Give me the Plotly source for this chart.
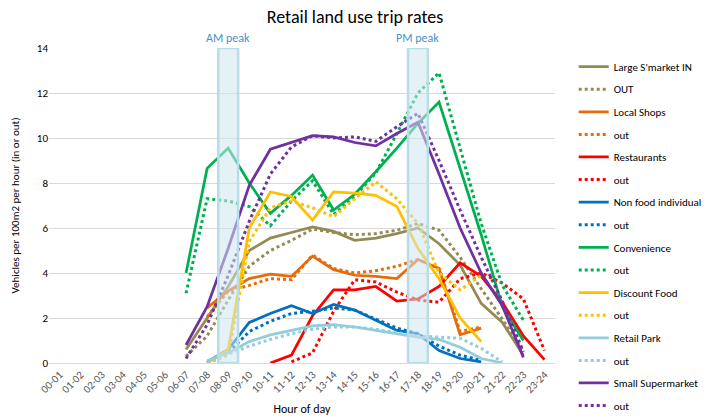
import plotly.graph_objects as go

# Hour-of-day bands on the x axis
hours = ["00-01", "01-02", "02-03", "03-04", "04-05", "05-06", "06-07", "07-08",
         "08-09", "09-10", "10-11", "11-12", "12-13", "13-14", "14-15", "15-16",
         "16-17", "17-18", "18-19", "19-20", "20-21", "21-22", "22-23", "23-24"]

# Trip rates (vehicles per 100m2 per hour); each series starts at the band given
large_in_start = 6
large_in = [0.6, 2.0, 3.4, 5.0, 5.55, 5.8, 6.05, 5.85, 5.45, 5.55, 5.75, 6.0, 5.3, 4.35, 2.65, 1.8, 0.35]
large_out_start = 6
large_out = [0.3, 1.2, 2.8, 4.3, 5.0, 5.45, 5.95, 5.8, 5.7, 5.75, 5.9, 6.2, 5.9, 4.7, 3.3, 1.95, 0.5]

local_in_start = 7
local_in = [2.45, 3.2, 3.75, 3.95, 3.85, 4.75, 4.15, 3.9, 3.85, 3.75, 4.6, 4.2, 1.25, 1.55]
local_out_start = 7
local_out = [2.05, 3.2, 3.45, 3.75, 3.7, 4.8, 4.2, 4.0, 4.1, 4.3, 4.6, 4.2, 1.4, 1.6]

rest_in_start = 10
rest_in = [0.0, 0.35, 2.1, 3.25, 3.25, 3.4, 2.75, 2.85, 3.4, 4.45, 3.85, 2.7, 1.2, 0.15]
rest_out_start = 11
rest_out = [0.05, 0.45, 2.3, 3.7, 3.6, 3.15, 2.8, 2.7, 3.75, 4.0, 3.55, 2.85, 0.55]

nonfood_in_start = 7
nonfood_in = [0.05, 0.6, 1.8, 2.2, 2.55, 2.2, 2.6, 2.35, 1.9, 1.45, 1.3, 0.55, 0.2, 0.05]
nonfood_out_start = 7
nonfood_out = [0.0, 0.45, 1.4, 1.85, 2.2, 2.3, 2.45, 2.35, 1.95, 1.55, 1.3, 0.75, 0.35, 0.12]

conv_in_start = 6
conv_in = [4.0, 8.65, 9.55, 8.0, 6.65, 7.45, 8.35, 6.8, 7.5, 8.5, 9.55, 10.65, 11.6, 8.6, 5.7, 2.5, 1.0]
conv_out_start = 6
conv_out = [3.1, 7.3, 7.2, 6.95, 6.1, 7.2, 8.1, 6.6, 7.4, 8.45, 10.2, 12.0, 12.9, 9.5, 6.2, 3.45, 1.9]

disc_in_start = 7
disc_in = [0.0, 0.6, 6.0, 7.6, 7.4, 6.35, 7.6, 7.55, 7.45, 6.95, 5.1, 3.75, 2.0, 0.95]
disc_out_start = 7
disc_out = [0.0, 0.35, 5.4, 6.9, 7.2, 6.9, 6.5, 7.3, 8.05, 7.3, 6.2, 4.0, 3.25, 3.9]

park_in_start = 7
park_in = [0.1, 0.45, 0.95, 1.25, 1.45, 1.65, 1.7, 1.6, 1.45, 1.3, 1.15, 1.05, 0.7, 0.2, 0.0]
park_out_start = 7
park_out = [0.05, 0.4, 0.75, 1.05, 1.3, 1.5, 1.6, 1.6, 1.5, 1.35, 1.2, 1.15, 1.1, 0.65, 0.05]

small_in_start = 6
small_in = [0.8, 2.5, 5.1, 7.9, 9.5, 9.8, 10.1, 10.05, 9.8, 9.65, 10.2, 10.7, 8.4, 6.0, 4.0, 2.55, 0.25]
small_out_start = 6
small_out = [0.2, 1.7, 3.9, 6.3, 8.4, 9.6, 10.1, 10.0, 10.05, 9.85, 10.5, 11.1, 9.0, 6.8, 4.7, 2.75, 0.5]

legend_names = ["Large S'market IN", "OUT", "Local Shops", "out", "Restaurants", "out",
                "Non food individual", "out", "Convenience", "out", "Discount Food", "out",
                "Retail Park", "out", "Small Supermarket", "out"]

peak_hours = ["08-09", "17-18"]
peak_labels = ["AM peak", "PM peak"]


def full_day(start, values):
    """Place a series on the 24-band day, leaving empty bands blank."""
    out = [None] * len(hours)
    for i, v in enumerate(values):
        out[start + i] = v
    return out


series = [
    (large_in_start, large_in, "#948A54", "solid"),
    (large_out_start, large_out, "#948A54", "dot"),
    (local_in_start, local_in, "#E46C0A", "solid"),
    (local_out_start, local_out, "#E46C0A", "dot"),
    (rest_in_start, rest_in, "#FF0000", "solid"),
    (rest_out_start, rest_out, "#FF0000", "dot"),
    (nonfood_in_start, nonfood_in, "#0070C0", "solid"),
    (nonfood_out_start, nonfood_out, "#0070C0", "dot"),
    (conv_in_start, conv_in, "#00B050", "solid"),
    (conv_out_start, conv_out, "#00B050", "dot"),
    (disc_in_start, disc_in, "#FFC000", "solid"),
    (disc_out_start, disc_out, "#FFC000", "dot"),
    (park_in_start, park_in, "#92CDDC", "solid"),
    (park_out_start, park_out, "#92CDDC", "dot"),
    (small_in_start, small_in, "#7030A0", "solid"),
    (small_out_start, small_out, "#7030A0", "dot"),
]

FONT = "Carlito, Lato, 'Liberation Sans', sans-serif"

fig = go.Figure()
for k, (start, vals, color, dash) in enumerate(series):
    fig.add_trace(go.Scatter(
        x=hours, y=full_day(start, vals), name=legend_names[k],
        mode="lines", connectgaps=False, legendgroup=f"g{k}",
        line=dict(color=color, width=2.75 if dash == "solid" else 3,
                  dash="solid" if dash == "solid" else "3px,3px"),
    ))

# Shaded peak-hour bands drawn over the lines
for h, lab in zip(peak_hours, peak_labels):
    idx = hours.index(h)
    fig.add_shape(type="rect", xref="x", yref="y", x0=idx - 0.47, x1=idx + 0.47,
                  y0=0, y1=14, layer="above",
                  fillcolor="rgba(205,230,238,0.55)",
                  line=dict(color="#B7DDE8", width=2.5))
    fig.add_annotation(x=h, y=14, xref="x", yref="y", text=lab, showarrow=False,
                       yanchor="bottom", yshift=1,
                       font=dict(family=FONT, size=12, color="#4A90C8"))

fig.update_layout(
    width=710, height=420,
    paper_bgcolor="white", plot_bgcolor="white",
    margin=dict(l=49, r=155, t=48, b=57, autoexpand=False),
    title=dict(text="Retail land use trip rates", x=0.5, xanchor="center",
               y=0.975, yanchor="top",
               font=dict(family=FONT, size=18, color="#000000", weight=400)),
    font=dict(family=FONT, size=11, color="#595959"),
    showlegend=True,
    legend=dict(x=1.037, xanchor="left", y=0.987, yanchor="top",
                font=dict(family=FONT, size=11, color="#000000"),
                tracegroupgap=3.6, traceorder="grouped", maxheight=420,
                bgcolor="rgba(0,0,0,0)", itemwidth=30),
)

fig.update_xaxes(
    type="category", range=[-0.5, 23.5], tickangle=-45,
    showgrid=False, showline=True, linecolor="#D9D9D9", linewidth=1,
    ticks="", tickfont=dict(family=FONT, size=11, color="#595959"),
    title=dict(text="Hour of day", standoff=9,
               font=dict(family=FONT, size=12, color="#000000")),
)
fig.update_yaxes(
    range=[0, 14], dtick=2, showgrid=True, gridcolor="#D9D9D9", gridwidth=1,
    zeroline=False, showline=False, ticks="",
    tickfont=dict(family=FONT, size=11, color="#000000"),
    title=dict(text="Vehicles per 100m2 per hour (in or out)", standoff=14,
               font=dict(family=FONT, size=11, color="#000000")),
)

fig.write_html("out.html")
